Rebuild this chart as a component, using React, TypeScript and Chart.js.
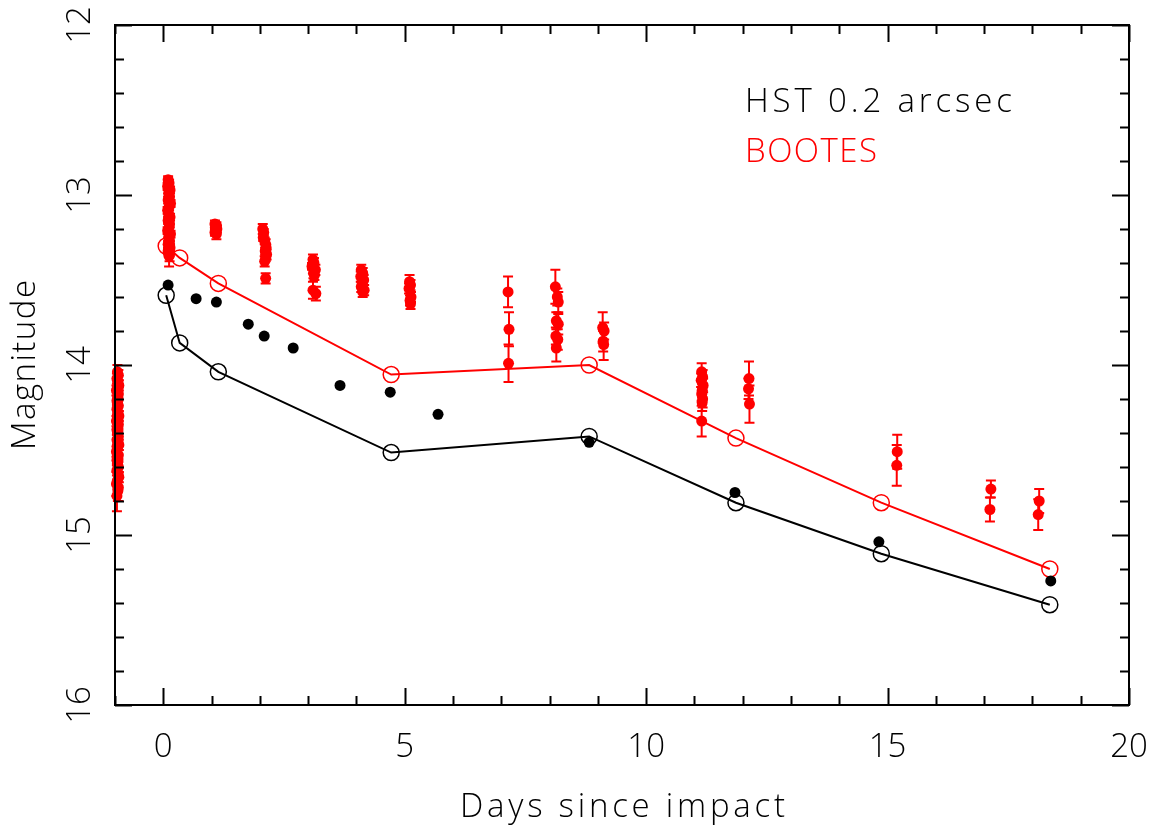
import React, { useEffect, useRef } from "react";
import { Chart, registerables } from "chart.js";

Chart.register(...registerables);

// ---------- data ----------
const hstDays = [0.1, 0.68, 1.1, 1.76, 2.09, 2.69, 3.66, 4.7, 5.69, 8.82, 11.84, 14.82, 18.38];
const hstMags = [13.53, 13.61, 13.63, 13.76, 13.83, 13.9, 14.12, 14.16, 14.29, 14.455, 14.75, 15.04, 15.27];

const modelDays = [0.06, 0.34, 1.14, 4.72, 8.82, 11.86, 14.87, 18.36];
const hstModelMags = [13.59, 13.87, 14.04, 14.515, 14.42, 14.81, 15.11, 15.41];
const bootesModelMags = [13.3, 13.37, 13.52, 14.056, 14.0, 14.43, 14.81, 15.2];

const bootesDays = [
  // pre-impact column
  -0.95, -0.93, -0.96, -0.94, -0.92, -0.95, -0.97, -0.93, -0.94, -0.96,
  -0.95, -0.93, -0.96, -0.94, -0.92, -0.95, -0.97, -0.93, -0.94, -0.96,
  -0.95, -0.93, -0.96, -0.94, -0.92, -0.95, -0.97, -0.93, -0.94, -0.96,
  -0.95, -0.93, -0.96, -0.94, -0.92, -0.95, -0.97, -0.93, -0.94, -0.96,
  // ~0.1 d
  0.1, 0.12, 0.09, 0.14, 0.11, 0.13, 0.1, 0.15, 0.12, 0.09,
  0.11, 0.14, 0.1, 0.13, 0.12, 0.09, 0.15, 0.11, 0.13, 0.1,
  0.12, 0.14, 0.11, 0.1, 0.13, 0.12,
  // ~1.1 d
  1.07, 1.1, 1.08, 1.11, 1.09, 1.07, 1.1,
  // ~2.1 d
  2.06, 2.08, 2.07, 2.1, 2.12, 2.13, 2.11, 2.14, 2.12, 2.1, 2.12,
  // ~3.1 d
  3.1, 3.12, 3.08, 3.15, 3.11, 3.13, 3.1, 3.16,
  // ~4.1 d
  4.1, 4.13, 4.09, 4.15, 4.12, 4.1, 4.16, 4.13,
  // ~5.1 d
  5.1, 5.12, 5.09, 5.13, 5.11, 5.12,
  // ~7.2 d
  7.14, 7.16, 7.15,
  // ~8.2 d
  8.12, 8.18, 8.16, 8.14, 8.18, 8.13, 8.17, 8.14,
  // ~9.1 d
  9.1, 9.13, 9.11, 9.12,
  // ~11.1 d
  11.15, 11.17, 11.14, 11.18, 11.16, 11.15, 11.17, 11.16, 11.15,
  // ~12.1 d
  12.13, 12.12, 12.14,
  // later
  15.2, 15.19,
  17.14, 17.12,
  18.14, 18.12,
];

const bootesMags = [
  14.04, 14.06, 14.08, 14.1, 14.12, 14.13, 14.15, 14.17, 14.19, 14.21,
  14.22, 14.24, 14.26, 14.28, 14.3, 14.31, 14.33, 14.35, 14.37, 14.38,
  14.4, 14.42, 14.44, 14.46, 14.47, 14.49, 14.51, 14.53, 14.55, 14.56,
  14.58, 14.6, 14.62, 14.64, 14.66, 14.68, 14.7, 14.72, 14.74, 14.77,
  12.91, 12.93, 12.95, 12.97, 12.99, 13.01, 13.03, 13.05, 13.07, 13.09,
  13.11, 13.13, 13.15, 13.17, 13.19, 13.21, 13.23, 13.25, 13.27, 13.29,
  13.3, 13.31, 13.32, 13.33, 13.35, 13.36,
  13.17, 13.18, 13.19, 13.2, 13.21, 13.22, 13.23,
  13.2, 13.22, 13.25, 13.27, 13.29, 13.31, 13.33, 13.35, 13.37, 13.39, 13.49,
  13.38, 13.4, 13.42, 13.44, 13.46, 13.47, 13.56, 13.58,
  13.44, 13.46, 13.48, 13.5, 13.52, 13.54, 13.56, 13.57,
  13.51, 13.53, 13.55, 13.6, 13.62, 13.64,
  13.57, 13.79, 13.99,
  13.54, 13.63, 13.6, 13.74, 13.76, 13.83, 13.85, 13.9,
  13.78, 13.8, 13.86, 13.88,
  14.04, 14.07, 14.09, 14.12, 14.15, 14.17, 14.2, 14.22, 14.33,
  14.08, 14.14, 14.23,
  14.51, 14.59,
  14.73, 14.85,
  14.8, 14.88,
];

const bootesErrs = [
  0.04, 0.03, 0.03, 0.03, 0.03, 0.03, 0.03, 0.03, 0.03, 0.03,
  0.03, 0.03, 0.03, 0.03, 0.03, 0.03, 0.03, 0.03, 0.03, 0.03,
  0.03, 0.03, 0.03, 0.03, 0.03, 0.03, 0.03, 0.03, 0.03, 0.03,
  0.03, 0.03, 0.03, 0.03, 0.03, 0.05, 0.07, 0.08, 0.06, 0.09,
  0.02, 0.02, 0.02, 0.02, 0.02, 0.02, 0.02, 0.02, 0.02, 0.02,
  0.02, 0.02, 0.02, 0.02, 0.02, 0.02, 0.02, 0.02, 0.02, 0.02,
  0.03, 0.02, 0.03, 0.02, 0.04, 0.06,
  0.02, 0.02, 0.02, 0.02, 0.02, 0.02, 0.03,
  0.03, 0.02, 0.02, 0.02, 0.03, 0.02, 0.02, 0.03, 0.02, 0.03, 0.03,
  0.03, 0.03, 0.02, 0.03, 0.03, 0.03, 0.05, 0.04,
  0.03, 0.03, 0.03, 0.03, 0.03, 0.03, 0.03, 0.03,
  0.04, 0.03, 0.03, 0.03, 0.03, 0.03,
  0.09, 0.1, 0.11,
  0.1, 0.06, 0.05, 0.05, 0.06, 0.05, 0.06, 0.08,
  0.09, 0.05, 0.06, 0.09,
  0.05, 0.04, 0.04, 0.04, 0.04, 0.04, 0.05, 0.05, 0.09,
  0.1, 0.06, 0.11,
  0.1, 0.12,
  0.05, 0.07,
  0.07, 0.09,
];

const xMajorTicks = [0, 5, 10, 15, 20];
const yMajorTicks = [12, 13, 14, 15, 16];
const xMinorStep = 1;
const yMinorStep = 0.2;

const xTitle = "Days since impact";
const yTitle = "Magnitude";
const legendHst = "HST 0.2 arcsec";
const legendBootes = "BOOTES";

// ---------- styles ----------
const RED = "#ff0000";
const BLACK = "#000000";
const FONT = "300 33px 'Open Sans', 'DejaVu Sans', sans-serif";

function drawSpaced(ctx: CanvasRenderingContext2D, text: string, x: number, y: number, width: number) {
  const anyCtx = ctx as any;
  anyCtx.letterSpacing = "0px";
  const w = ctx.measureText(text).width;
  const n = text.length;
  const sp = n > 1 ? (width - w) / (n - 1) : 0;
  anyCtx.letterSpacing = sp.toFixed(2) + "px";
  ctx.textAlign = "left";
  ctx.fillText(text, x, y);
  anyCtx.letterSpacing = "0px";
}

const framePlugin = {
  id: "pgframe",
  beforeDatasetsDraw(chart: any) {
    const ctx: CanvasRenderingContext2D = chart.ctx;
    const xs = chart.scales.x;
    const ys = chart.scales.y;
    ctx.save();
    ctx.strokeStyle = RED;
    ctx.lineWidth = 2;
    for (let i = 0; i < bootesDays.length; i++) {
      const px = xs.getPixelForValue(bootesDays[i]);
      const y1 = ys.getPixelForValue(bootesMags[i] - bootesErrs[i]);
      const y2 = ys.getPixelForValue(bootesMags[i] + bootesErrs[i]);
      ctx.beginPath();
      ctx.moveTo(px, y1);
      ctx.lineTo(px, y2);
      ctx.moveTo(px - 5, y1);
      ctx.lineTo(px + 5, y1);
      ctx.moveTo(px - 5, y2);
      ctx.lineTo(px + 5, y2);
      ctx.stroke();
    }
    ctx.restore();
  },
  afterDraw(chart: any) {
    const ctx: CanvasRenderingContext2D = chart.ctx;
    const xs = chart.scales.x;
    const ys = chart.scales.y;
    const a = chart.chartArea;
    ctx.save();
    ctx.strokeStyle = BLACK;
    ctx.lineWidth = 2;
    ctx.strokeRect(a.left, a.top, a.right - a.left, a.bottom - a.top);

    ctx.beginPath();
    // x ticks
    for (let v = xs.min; v <= xs.max + 1e-9; v += xMinorStep) {
      const isMajor = xMajorTicks.some((t) => Math.abs(t - v) < 1e-6);
      const len = isMajor ? 17 : 9;
      const px = Math.round(xs.getPixelForValue(v)) + 0.5;
      ctx.moveTo(px, a.bottom);
      ctx.lineTo(px, a.bottom - len);
      ctx.moveTo(px, a.top);
      ctx.lineTo(px, a.top + len);
    }
    // y ticks
    for (let v = ys.min; v <= ys.max + 1e-9; v += yMinorStep) {
      const isMajor = yMajorTicks.some((t) => Math.abs(t - v) < 1e-6);
      const len = isMajor ? 17 : 9;
      const py = Math.round(ys.getPixelForValue(v)) + 0.5;
      ctx.moveTo(a.left, py);
      ctx.lineTo(a.left + len, py);
      ctx.moveTo(a.right, py);
      ctx.lineTo(a.right - len, py);
    }
    ctx.lineWidth = 2;
    ctx.stroke();

    ctx.fillStyle = BLACK;
    ctx.font = FONT;
    // x tick labels
    ctx.textAlign = "center";
    ctx.textBaseline = "alphabetic";
    for (const t of xMajorTicks) {
      ctx.fillText(String(t), xs.getPixelForValue(t), a.bottom + 52);
    }
    // y tick labels (rotated)
    for (const t of yMajorTicks) {
      ctx.save();
      ctx.translate(a.left - 25, ys.getPixelForValue(t));
      ctx.rotate(-Math.PI / 2);
      ctx.textAlign = "center";
      ctx.fillText(String(t), 0, 0);
      ctx.restore();
    }
    // axis titles
    const cx = (a.left + a.right) / 2;
    const cy = (a.top + a.bottom) / 2;
    drawSpaced(ctx, xTitle, cx - 162, a.bottom + 112, 325);
    ctx.save();
    ctx.translate(a.left - 80, cy);
    ctx.rotate(-Math.PI / 2);
    drawSpaced(ctx, yTitle, -85, 0, 170);
    ctx.restore();

    // legend text
    ctx.fillStyle = BLACK;
    drawSpaced(ctx, legendHst, 745, 112, 267);
    ctx.fillStyle = RED;
    drawSpaced(ctx, legendBootes, 745, 162, 132);
    ctx.restore();
  },
};

export default function App() {
  const ref = useRef<HTMLCanvasElement | null>(null);

  useEffect(() => {
    const canvas = ref.current;
    if (!canvas) return;
    const chart = new Chart(canvas, {
      type: "scatter",
      data: {
        datasets: [
          {
            label: "HST",
            data: hstDays.map((d, i) => ({ x: d, y: hstMags[i] })),
            pointRadius: 5.5,
            pointBackgroundColor: BLACK,
            pointBorderWidth: 0,
            showLine: false,
            order: 1,
          },
          {
            label: "BOOTES",
            data: bootesDays.map((d, i) => ({ x: d, y: bootesMags[i] })),
            pointRadius: 5.5,
            pointBackgroundColor: RED,
            pointBorderWidth: 0,
            showLine: false,
            clip: false as any,
            order: 2,
          },
          {
            label: "HST model",
            data: modelDays.map((d, i) => ({ x: d, y: hstModelMags[i] })),
            showLine: true,
            borderColor: BLACK,
            borderWidth: 2,
            tension: 0,
            pointRadius: 8,
            pointBorderWidth: 1.5,
            pointBorderColor: BLACK,
            pointBackgroundColor: "rgba(0,0,0,0)",
            order: 3,
          },
          {
            label: "BOOTES model",
            data: modelDays.map((d, i) => ({ x: d, y: bootesModelMags[i] })),
            showLine: true,
            borderColor: RED,
            borderWidth: 2,
            tension: 0,
            pointRadius: 8,
            pointBorderWidth: 1.5,
            pointBorderColor: RED,
            pointBackgroundColor: "rgba(0,0,0,0)",
            order: 4,
          },
        ],
      },
      options: {
        animation: false,
        responsive: true,
        maintainAspectRatio: false,
        layout: { padding: { left: 0, top: 25, right: 30, bottom: 0 } },
        plugins: {
          legend: { display: false },
          tooltip: { enabled: false },
        },
        events: [],
        scales: {
          x: {
            type: "linear",
            min: -1,
            max: 20,
            ticks: { display: false },
            grid: { display: false },
            border: { display: false },
            afterFit: (s: any) => {
              s.height = 126;
            },
          },
          y: {
            type: "linear",
            min: 12,
            max: 16,
            reverse: true,
            ticks: { display: false },
            grid: { display: false },
            border: { display: false },
            afterFit: (s: any) => {
              s.width = 115;
            },
          },
        },
      },
      plugins: [framePlugin],
    });
    return () => chart.destroy();
  }, []);

  return (
    <div style={{ position: "fixed", left: 0, top: 0, width: 1159, height: 831, background: "#fff" }}>
      <canvas ref={ref} />
    </div>
  );
}
